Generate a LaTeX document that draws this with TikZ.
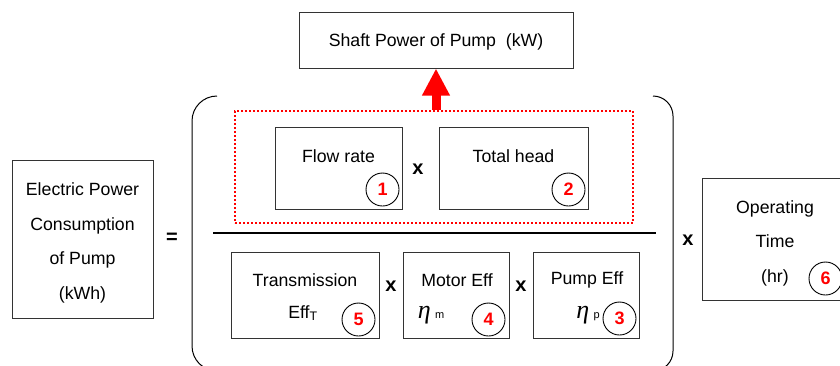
\documentclass[tikz,border=0pt]{standalone}
\usepackage{fontspec}
\setmainfont{Liberation Sans}
\newfontfamily\etafont{Liberation Serif}
\usetikzlibrary{arrows.meta,positioning}

\begin{document}
\begin{tikzpicture}[
  x=1pt, y=-1pt,
  every node/.style={font=\fontsize{17.7}{34.5}\selectfont},
  box/.style={draw=black!80, line width=1pt, inner sep=0pt, align=center},
  num/.style={draw, circle, line width=0.9pt, minimum size=33pt, inner sep=0pt, text=red, font=\fontsize{18}{18}\selectfont\bfseries},
  op/.style={font=\fontsize{20}{20}\selectfont\bfseries},
  eff/.style={font=\fontsize{26}{26}\selectfont\etafont\itshape},
  grp/.style={draw=red, line width=2.4pt, dash pattern=on 2pt off 2pt, inner sep=0pt},
  uparr/.style={red, line width=9pt, -{Triangle[length=27pt, width=26pt]}}
]
  \clip (0,0) rectangle (840,365);
  % result
  \node[box, minimum width=141pt, minimum height=158pt] (elec) at (82.5,239) {};
  \node[align=center, yshift=-4pt] (electxt) at (elec) {Electric Power\\Consumption\\of Pump\\(kWh)};
  \node[op] (eq) at (172,238) {=};
  % big brackets
  \draw[line width=1pt, rounded corners=25pt] (217,96) -- (192,96) -- (192,371) -- (217,371);
  \draw[line width=1pt, rounded corners=20pt] (653,96) -- (673,96) -- (673,371) -- (653,371);
  % numerator
  \node[grp, minimum width=398pt, minimum height=112pt] (numer) at (434,167) {};
  \node[box, minimum width=127pt, minimum height=82pt] (flow) at (338.5,168) {};
  \node[yshift=12pt] (flowtxt) at (flow) {Flow rate};
  \node[num, xshift=-20pt, yshift=20pt] (n1) at (flow.south east) {1};
  \node[op] (x1) at (418,169) {x};
  \node[box, minimum width=149pt, minimum height=82pt] (head) at (513.5,168) {};
  \node[yshift=12pt] (headtxt) at (head) {Total head};
  \node[num, xshift=-20pt, yshift=20pt] (n2) at (head.south east) {2};
  \node[box, minimum width=274pt, minimum height=56pt] (shaft) at (436,40) {};
  \node[yshift=-2pt] (shafttxt) at (shaft) {Shaft Power of Pump~~(kW)};
  \draw[uparr] (shaft.south |- numer.north) -- (shaft.south);
  % fraction line
  \draw[line width=2pt] (213,233) -- (656,233);
  % denominator
  \node[box, minimum width=148pt, minimum height=86pt] (trans) at (305,295) {};
  \node (transtxt) at (305,280) {Transmission};
  \node (efft) at (303,313) {Eff\textsubscript{T}};
  \node[num, xshift=-21pt, yshift=19pt] (n5) at (trans.south east) {5};
  \node[op] (x2) at (391,286) {x};
  \node[box, minimum width=106pt, minimum height=86pt] (motor) at (456,295) {};
  \node (motortxt) at (457,280) {Motor Eff};
  \node[eff] (etam) at (431,315) {η\,{\upshape\fontsize{11}{11}\selectfont\rmfamily m}};
  \node[num, xshift=-21pt, yshift=19pt] (n4) at (motor.south east) {4};
  \node[op] (x3) at (521,286) {x};
  \node[box, minimum width=106pt, minimum height=86pt] (pump) at (586,295) {};
  \node (pumptxt) at (587,280) {Pump Eff};
  \node[eff] (etap) at (588,315) {η\,{\upshape\fontsize{11}{11}\selectfont\rmfamily p}};
  \node[num, xshift=-20pt, yshift=20pt] (n3) at (pump.south east) {3};
  % operating time
  \node[op] (x4) at (688,240) {x};
  \node[box, minimum width=146pt, minimum height=122pt] (optime) at (775,239) {};
  \node[align=center, yshift=-4pt] (optxt) at (optime) {Operating\\Time\\(hr)};
  \node[num, xshift=-23pt, yshift=22pt] (n6) at (optime.south east) {6};
\end{tikzpicture}
\end{document}
